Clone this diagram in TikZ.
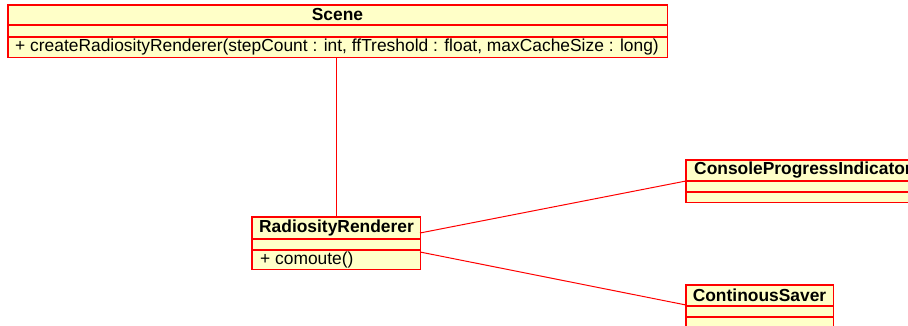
\documentclass[tikz,border=0pt]{standalone}
\usepackage{fontspec}
\setmainfont{Liberation Sans}
\definecolor{umlfill}{RGB}{255,255,200}
\definecolor{umlline}{RGB}{255,0,0}
\tikzset{
  umlbox/.style={fill=umlfill, inner sep=0pt, anchor=north west},
  frame/.style={draw=umlline, line width=1.3pt},
  sepline/.style={draw=umlline, line width=1.3pt},
  assoc/.style={draw=umlline, line width=1pt},
  classname/.style={font=\fontsize{17.4}{17.4}\selectfont\bfseries, inner sep=0pt},
  member/.style={font=\fontsize{17.4}{17.4}\selectfont, inner sep=0pt, anchor=west},
}
\begin{document}
\begin{tikzpicture}[x=1pt,y=-1pt]
\useasboundingbox (0,0) rectangle (908,326);
\clip (0,0) rectangle (908,326);

% Scene
\node[umlbox, minimum width=659pt, minimum height=52pt] (scene) at (8,5) {};
\draw[frame] (scene.north west) rectangle (scene.south east);
\draw[sepline] (8,25) -- (667,25);
\draw[sepline] (8,37) -- (667,37);
\node[classname] (scenename) at (337.5,15) {Scene};
\node[member] (scenemethod) at (15,47) {+ createRadiosityRenderer(stepCount : int, ffTreshold : float, maxCacheSize : long)};

% RadiosityRenderer
\node[umlbox, minimum width=168pt, minimum height=52pt] (rr) at (252,217) {};
\draw[frame] (rr.north west) rectangle (rr.south east);
\draw[sepline] (252,239) -- (420,239);
\draw[sepline] (252,250) -- (420,250);
\node[classname] (rrname) at (336.5,228) {RadiosityRenderer};
\node[member] (rrmethod) at (260,260) {+ comoute()};

% ConsoleProgressIndicator
\node[umlbox, minimum width=240pt, minimum height=42pt] (cpi) at (686,160) {};
\draw[frame] (cpi.north west) rectangle (cpi.south east);
\draw[sepline] (686,181) -- (926,181);
\draw[sepline] (686,192) -- (926,192);
\node[classname, anchor=west] (cpiname) at (694,170.5) {ConsoleProgressIndicator};

% ContinousSaver
\node[umlbox, minimum width=147pt, minimum height=50pt] (cs) at (686,285) {};
\draw[frame] (cs.north west) rectangle (cs.south east);
\draw[sepline] (686,306) -- (833,306);
\draw[sepline] (686,317) -- (833,317);
\node[classname] (csname) at (759.5,295.5) {ContinousSaver};

% association end points
\coordinate (rrA) at (420,233);
\coordinate (rrB) at (420,252);
\coordinate (cpiA) at (686,181);
\coordinate (csA) at (686,305);

% associations
\draw[assoc] (scene.south -| rr.north) -- (rr.north);
\draw[assoc] (rrA) -- (cpiA);
\draw[assoc] (rrB) -- (csA);
\end{tikzpicture}
\end{document}
